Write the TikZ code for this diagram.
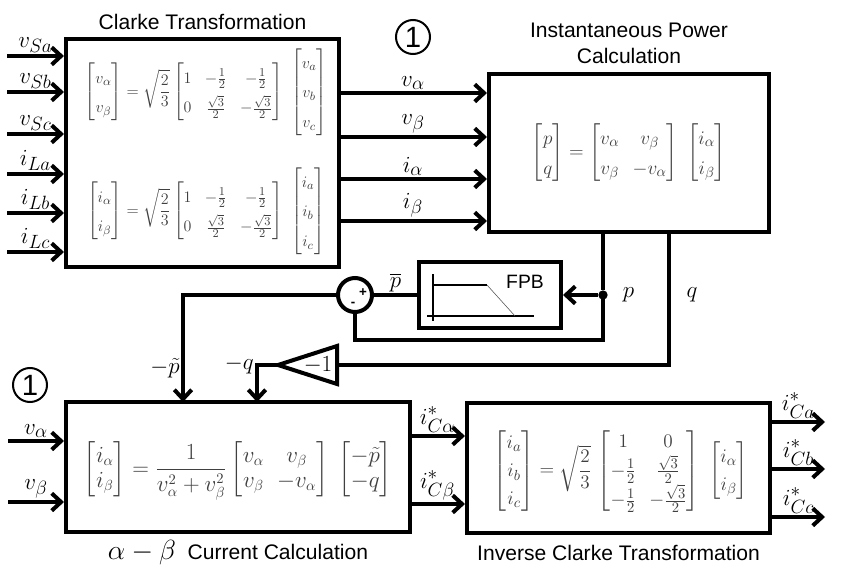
\documentclass[tikz,border=0pt]{standalone}
\usepackage{amsmath}
\usepackage{fontspec}
\setsansfont{Liberation Sans}
\usetikzlibrary{arrows.meta, positioning, calc, shapes.geometric}

\begin{document}
\begin{tikzpicture}[
    x=0.75pt, y=-0.75pt,
    block/.style={rectangle, draw, line width=3pt, fill=white, inner sep=0pt},
    arrow/.style={-{Straight Barb[length=7pt, width=13pt]}, line width=3pt},
    wire/.style={line width=3pt},
    lbl/.style={font=\fontsize{19}{22}\selectfont, inner sep=1pt},
    title/.style={font=\sffamily\fontsize{15.8}{19}\selectfont, align=center},
    eqn/.style={text=black!75},
    sumnode/.style={circle, draw, line width=3pt, minimum size=25.5pt, inner sep=0pt},
    tag/.style={circle, draw, line width=1.5pt, minimum size=25.5pt, inner sep=0pt, font=\sffamily\fontsize{22}{22}\selectfont}
]
\useasboundingbox (0,0) rectangle (844,578);

% main blocks
\node[block, minimum width=204.8pt, minimum height=171pt] (clarke) at (202.5,153) {};
\node[block, minimum width=210pt, minimum height=118.5pt] (power) at (629,153) {};
\node[block, minimum width=258pt, minimum height=97.5pt] (acalc) at (238,467) {};
\node[block, minimum width=227.3pt, minimum height=97.5pt] (iclarke) at (618.5,468) {};
\node[block, minimum width=106.5pt, minimum height=49.5pt] (fpb) at (490,295) {};

\node[title, above=2pt of clarke] (clarketitle) {Clarke Transformation};
\node[title, above=3pt of power] (powertitle) {Instantaneous Power\\Calculation};
\node[title, below=1pt of acalc] (acalctitle) {{\fontsize{20}{22}\selectfont$\alpha-\beta$}\ \ Current Calculation};
\node[title, below=4pt of iclarke] (iclarketitle) {Inverse Clarke Transformation};

% equations
\node[eqn, font=\fontsize{13}{16}\selectfont] (eqv) at (206,92) {\renewcommand{\arraystretch}{1.4}$\displaystyle
  \begin{bmatrix} v_\alpha\\ v_\beta \end{bmatrix} = \sqrt{\frac{2}{3}}
  \begin{bmatrix} 1 & -\frac12 & -\frac12\\ 0 & \frac{\sqrt3}{2} & -\frac{\sqrt3}{2} \end{bmatrix}\
  \begin{bmatrix} v_a\\ v_b\\ v_c \end{bmatrix}$};
\node[eqn, font=\fontsize{13}{16}\selectfont] (eqi) at (206,211) {\renewcommand{\arraystretch}{1.4}$\displaystyle
  \begin{bmatrix} i_\alpha\\ i_\beta \end{bmatrix} = \sqrt{\frac{2}{3}}
  \begin{bmatrix} 1 & -\frac12 & -\frac12\\ 0 & \frac{\sqrt3}{2} & -\frac{\sqrt3}{2} \end{bmatrix}\
  \begin{bmatrix} i_a\\ i_b\\ i_c \end{bmatrix}$};
\node[eqn, font=\fontsize{15}{18}\selectfont] (eqpq) at (629,153) {\renewcommand{\arraystretch}{1.25}$
  \begin{bmatrix} p\\ q \end{bmatrix} =
  \begin{bmatrix} v_\alpha & v_\beta\\ v_\beta & -v_\alpha \end{bmatrix}\
  \begin{bmatrix} i_\alpha\\ i_\beta \end{bmatrix}$};
\node[eqn, font=\fontsize{16}{19}\selectfont] (eqab) at (238,471) {$
  \begin{bmatrix} i_\alpha\\ i_\beta \end{bmatrix} = \dfrac{1}{v_\alpha^2+v_\beta^2}
  \begin{bmatrix} v_\alpha & v_\beta\\ v_\beta & -v_\alpha \end{bmatrix}\
  \begin{bmatrix} -\tilde{p}\\ -q \end{bmatrix}$};
\node[eqn, font=\fontsize{15.5}{18}\selectfont] (eqinv) at (621,471) {\renewcommand{\arraystretch}{1.15}$
  \begin{bmatrix} i_a\\ i_b\\ i_c \end{bmatrix} = \sqrt{\dfrac{2}{3}}\,
  \begin{bmatrix} 1 & 0\\ -\frac12 & \frac{\sqrt3}{2}\\ -\frac12 & -\frac{\sqrt3}{2} \end{bmatrix}\
  \begin{bmatrix} i_\alpha\\ i_\beta \end{bmatrix}$};

% Clarke inputs
\coordinate (sa) at (7,56);
\coordinate (sb) at (7,92);
\coordinate (sc) at (7,134);
\coordinate (la) at (7,174);
\coordinate (lb) at (7,213);
\coordinate (lc) at (7,252);
\draw[arrow] (sa) -- (sa -| clarke.west) node[lbl, midway, above] (lsa) {$v_{Sa}$};
\draw[arrow] (sb) -- (sb -| clarke.west) node[lbl, midway, above] (lsb) {$v_{Sb}$};
\draw[arrow] (sc) -- (sc -| clarke.west) node[lbl, midway, above] (lsc) {$v_{Sc}$};
\draw[arrow] (la) -- (la -| clarke.west) node[lbl, midway, above] (lla) {$i_{La}$};
\draw[arrow] (lb) -- (lb -| clarke.west) node[lbl, midway, above] (llb) {$i_{Lb}$};
\draw[arrow] (lc) -- (lc -| clarke.west) node[lbl, midway, above] (llc) {$i_{Lc}$};

% Clarke -> power
\coordinate (va) at (339,93);
\coordinate (vb) at (339,137);
\coordinate (ia) at (339,179);
\coordinate (ib) at (339,221);
\draw[arrow] (va) -- (va -| power.west) node[lbl, midway, above] (lva) {$v_\alpha$};
\draw[arrow] (vb) -- (vb -| power.west) node[lbl, midway, above] (lvb) {$v_\beta$};
\draw[arrow] (ia) -- (ia -| power.west) node[lbl, midway, above] (lia) {$i_\alpha$};
\draw[arrow] (ib) -- (ib -| power.west) node[lbl, midway, above] (lib) {$i_\beta$};
\node[tag] (tagA) at (413,37) {1};

% filter and feedback
\draw[line width=1.5pt] ([shift={(-57,-21)}]fpb.center) -- ([shift={(-57,26)}]fpb.center);
\draw[line width=1.5pt] ([shift={(-63,21)}]fpb.center) -- ([shift={(44,21)}]fpb.center);
\draw[line width=0.8pt] ([shift={(-57,-10)}]fpb.center) -- ([shift={(-3,-10)}]fpb.center);
\draw[line width=0.4pt, black!70] ([shift={(-3,-10)}]fpb.center) -- ([shift={(25,21)}]fpb.center);
\node[font=\sffamily\fontsize{14.5}{16}\selectfont] (fpbtext) at ([shift={(35,-13)}]fpb.center) {FPB};

\node[sumnode] (sum) at (355,295) {};
\node[font=\sffamily\bfseries\fontsize{10}{10}\selectfont, inner sep=0pt] (plus) at (363,293) {+};
\node[font=\sffamily\bfseries\fontsize{10}{10}\selectfont, inner sep=0pt] (minus) at (353,304) {-};
\node[circle, fill, minimum size=7pt, inner sep=0pt] (pdot) at (603,295) {};
\coordinate (gtip) at (278,365);
\coordinate (gbase) at (337,365);
\draw[wire, line join=miter] (gtip) -- (337,346) -- (337,384) -- cycle;
\node[lbl] (gain) at (318,365) {$-1$};
\coordinate (qturn) at (669,365);
\coordinate (pt) at (183,402);
\coordinate (mq) at (257,402);

\draw[wire] (power.south -| pdot) -- (pdot);
\draw[arrow] (pdot) -- (fpb.east);
\node[lbl, right=10pt of pdot] (lp) {$p$};
\draw[wire] (fpb.west) -- (sum.east) node[lbl, midway, above] (lpbar) {$\overline{p}$};
\draw[wire] (pdot.center) -- ++(0,45) -| (sum.south);
\draw[wire] (power.south -| qturn) -- (qturn) -- (gbase);
\node[lbl, right=12pt of qturn |- pdot] (lq) {$q$};
\draw[arrow] (sum.west) -| (pt) node[lbl, pos=0.84, left] (lpt) {$-\tilde{p}$};
\draw[arrow] (gtip) -| (mq) node[lbl, pos=0.5, left] (lmq) {$-q$};

% alpha-beta current block
\node[tag] (tagB) at (30,385) {1};
\coordinate (ua) at (8,441);
\coordinate (ub) at (8,502);
\draw[arrow] (ua) -- (ua -| acalc.west) node[lbl, midway, above] (lua) {$v_\alpha$};
\draw[arrow] (ub) -- (ub -| acalc.west) node[lbl, midway, above] (lub) {$v_\beta$};
\coordinate (ca) at (410,436);
\coordinate (cb) at (410,504);
\draw[arrow] (ca) -- (ca -| iclarke.west) node[lbl, midway, above] (lca) {$i^*_{C\alpha}$};
\draw[arrow] (cb) -- (cb -| iclarke.west) node[lbl, midway, above] (lcb) {$i^*_{C\beta}$};

% inverse Clarke outputs
\coordinate (oa) at (825,422);
\coordinate (ob) at (825,469);
\coordinate (oc) at (825,517);
\draw[arrow] (oa -| iclarke.east) -- (oa) node[lbl, midway, above] (loa) {$i^*_{Ca}$};
\draw[arrow] (ob -| iclarke.east) -- (ob) node[lbl, midway, above] (lob) {$i^*_{Cb}$};
\draw[arrow] (oc -| iclarke.east) -- (oc) node[lbl, midway, above] (loc) {$i^*_{Cc}$};
\end{tikzpicture}
\end{document}
